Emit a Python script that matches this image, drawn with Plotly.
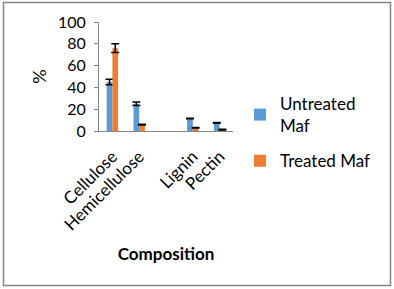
import plotly.graph_objects as go

categories = ["Cellulose", "Hemicellulose", " ", "Lignin", "Pectin"]
untreated = [45, 25, None, 11.5, 7.5]
untreated_err = [2.5, 1.5, None, 0.3, 0.3]
treated = [76, 5.8, None, 3, 1.3]
treated_err = [4, 0.3, None, 0.3, 0.3]

FONT = "Lato"
L, R, T, B = 99, 161, 22, 158
W, H = 394, 289
pw, ph = W - L - R, H - T - B

fig = go.Figure()
fig.add_trace(go.Bar(
    x=categories, y=untreated, name="Untreated<br>Maf", legendgroup="u",
    marker=dict(color="#5B9BD5", line=dict(width=0)),
    error_y=dict(type="data", array=untreated_err, color="black", thickness=1.5, width=4),
))
fig.add_trace(go.Bar(
    x=categories, y=treated, name="Treated Maf", legendgroup="t",
    marker=dict(color="#ED7D31", line=dict(width=0)),
    error_y=dict(type="data", array=treated_err, color="black", thickness=1.5, width=4),
))

def px_x(p):
    return (p - L) / pw

def px_y(p):
    return (H - B - p) / ph

fig.update_layout(
    width=W, height=H,
    margin=dict(l=L, r=R, t=T, b=B, autoexpand=False),
    paper_bgcolor="white", plot_bgcolor="white",
    font=dict(family=FONT, size=16, color="black"),
    barmode="group", bargap=0.575, bargroupgap=0,
    showlegend=True,
    legend=dict(x=px_x(240), y=px_y(86), xanchor="left", yanchor="top",
                font=dict(size=17, family=FONT), traceorder="grouped", tracegroupgap=10,
                bgcolor="rgba(0,0,0,0)", itemwidth=30),
    xaxis=dict(
        type="category", categoryorder="array", categoryarray=categories,
        showline=True, linecolor="#868686", linewidth=1,
        ticks="", tickangle=-45, tickfont=dict(size=17, family=FONT),
        ticklabelstandoff=8,
        showgrid=False,
        title=dict(text="<b>Composition</b>", font=dict(size=17, family=FONT), standoff=14),
    ),
    yaxis=dict(
        range=[0, 100], dtick=20, showline=True, linecolor="#868686", linewidth=1,
        ticks="outside", ticklen=4, tickcolor="#868686",
        showgrid=False, zeroline=False,
        tickfont=dict(size=16, family=FONT), ticklabelstandoff=5,
        title=dict(text="%", font=dict(size=18, family=FONT), standoff=6),
    ),
    shapes=[dict(type="rect", xref="paper", yref="paper",
                 x0=px_x(3.5), x1=px_x(390.5), y0=px_y(285.5), y1=px_y(2.5),
                 line=dict(color="#868686", width=1.5), fillcolor="rgba(0,0,0,0)")],
)

fig.write_html("out.html", config={"displayModeBar": False},
               post_script="document.body.style.margin='0';document.body.style.overflow='hidden';")
